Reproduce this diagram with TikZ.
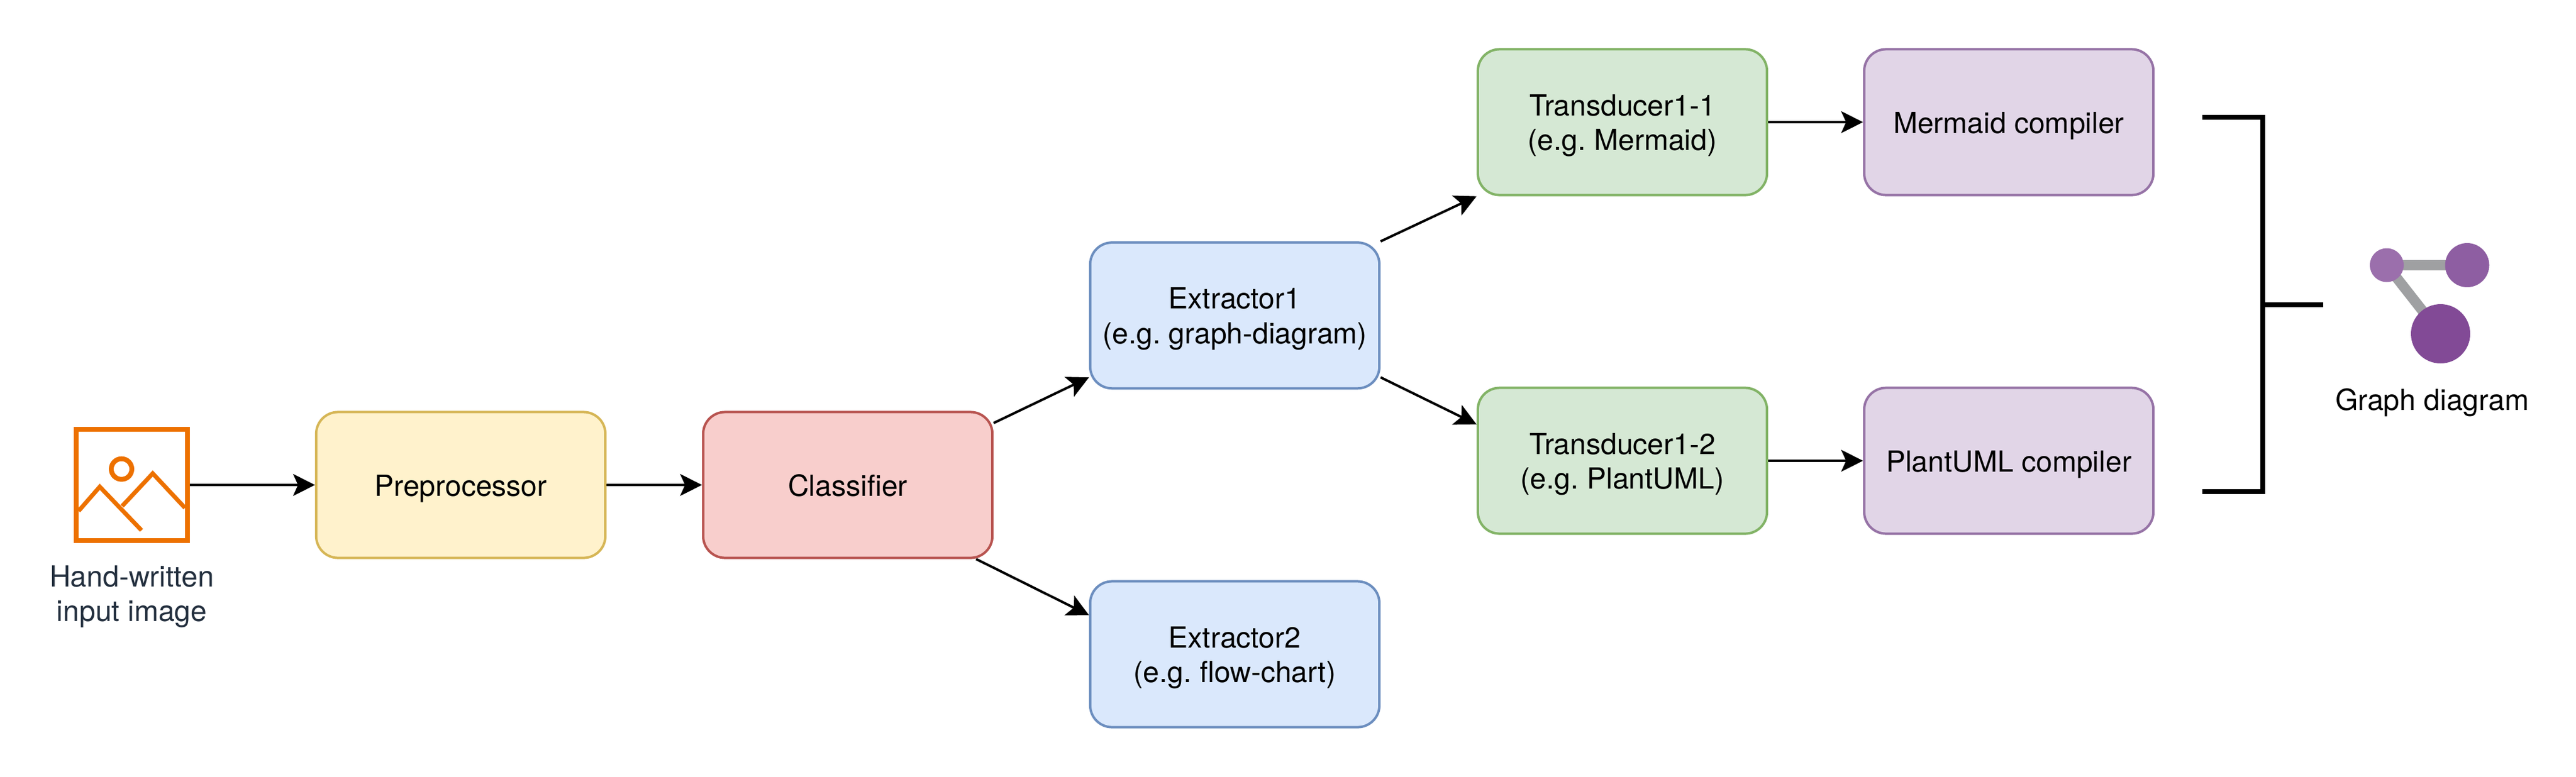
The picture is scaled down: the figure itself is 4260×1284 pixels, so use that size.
\documentclass[tikz,border=0pt]{standalone}
\usepackage{fontspec}
\setmainfont{TeX Gyre Heros}
\usetikzlibrary{arrows.meta}
\definecolor{yellowfill}{HTML}{FFF2CC}
\definecolor{yellowline}{HTML}{D6B656}
\definecolor{redfill}{HTML}{F8CECC}
\definecolor{redline}{HTML}{B85450}
\definecolor{bluefill}{HTML}{DAE8FC}
\definecolor{blueline}{HTML}{6C8EBF}
\definecolor{greenfill}{HTML}{D5E8D4}
\definecolor{greenline}{HTML}{82B366}
\definecolor{violetfill}{HTML}{E1D5E7}
\definecolor{violetline}{HTML}{9673A6}
\definecolor{iconorange}{HTML}{ED7100}
\definecolor{icontext}{HTML}{232F3E}
\definecolor{graphedge}{HTML}{9FA0A2}
\definecolor{grapha}{HTML}{9B6FAC}
\definecolor{graphb}{HTML}{8E5EA2}
\definecolor{graphc}{HTML}{824A96}
\newcommand{\st}{\rule[-0.11cm]{0pt}{0.58cm}}
\lineskiplimit=-1cm
\normallineskiplimit=-1cm
\frenchspacing
\tikzset{
  box/.style={draw,rounded corners=.36cm,line width=.04cm,minimum width=4.78cm,minimum height=2.41cm,inner sep=0pt,align=center},
  arr/.style={-{Stealth[length=.36cm,width=.36cm,inset=.08cm]},line width=.04cm},
  lab/.style={inner sep=0pt,align=center}
}
\begin{document}
\begin{tikzpicture}[x=0.01cm,y=-0.01cm,font=\fontsize{13.66pt}{16.39pt}\selectfont]
\useasboundingbox (0,0) rectangle (4260,1284);
%image icon
\node [draw=iconorange,line width=.08cm,minimum width=1.84cm,minimum height=1.84cm,inner sep=0pt] (icon) at (218,802) {};
\draw [iconorange,line width=.07cm] (130,845)--(165,805)--(234,877);
\draw [iconorange,line width=.07cm] (202,837)--(252.6,783)--(306,840);
\draw [iconorange,line width=.08cm] (201,775.7) circle (17);
\node [lab,text=icontext] (iconlab) at (218,981) {\st Hand-written\\\st input image};
%boxes
\node [box,fill=yellowfill,draw=yellowline] (prep) at (762,802) {\st Preprocessor};
\node [box,fill=redfill,draw=redline] (cls) at (1402,802) {\st Classifier};
\node [box,fill=bluefill,draw=blueline] (ext1) at (2042,521.7) {\st Extractor1\\\st (e.g. graph-diagram)};
\node [box,fill=bluefill,draw=blueline] (ext2) at (2042,1082) {\st Extractor2\\\st (e.g. flow-chart)};
\node [box,fill=greenfill,draw=greenline] (tr1) at (2683,202) {\st Transducer1-1\\\st (e.g. Mermaid)};
\node [box,fill=greenfill,draw=greenline] (tr2) at (2683,762) {\st Transducer1-2\\\st (e.g. PlantUML)};
\node [box,fill=violetfill,draw=violetline] (cmp1) at (3322,202) {\st Mermaid compiler};
\node [box,fill=violetfill,draw=violetline] (cmp2) at (3322,762) {\st PlantUML compiler};
%arrows
\draw [arr] (icon)--(prep);
\draw [arr] (prep)--(cls);
\draw [arr] (cls.23.5)--(ext1.203.5);
\draw [arr] (cls.-30)--(ext2.165.8);
\draw [arr] (ext1.north east)--(tr1.south west);
\draw [arr] (ext1.-23.9)--(tr2.166);
\draw [arr] (tr1)--(cmp1);
\draw [arr] (tr2)--(cmp2);
%bracket
\coordinate (brtop) at (3642,194);
\coordinate (brbot) at (3642,813);
\coordinate (brmid) at (3742,504);
\coordinate (brout) at (3842,504);
\draw [line width=.08cm] (brtop)--(3742,194)--(3742,813)--(brbot);
\draw [line width=.08cm] (brmid)--(brout);
%graph icon
\coordinate (ga) at (3947,438.5);
\coordinate (gb) at (4080,438.5);
\coordinate (gc) at (4036,552);
\draw [graphedge,line width=.17cm] (gb)--(ga)--(gc);
\fill [grapha] (ga) circle (28);
\fill [graphb] (gb) circle (36.5);
\fill [graphc] (gc) circle (49);
\node [lab] (graphlab) at (4022,660) {\st Graph diagram};
\end{tikzpicture}
\end{document}
